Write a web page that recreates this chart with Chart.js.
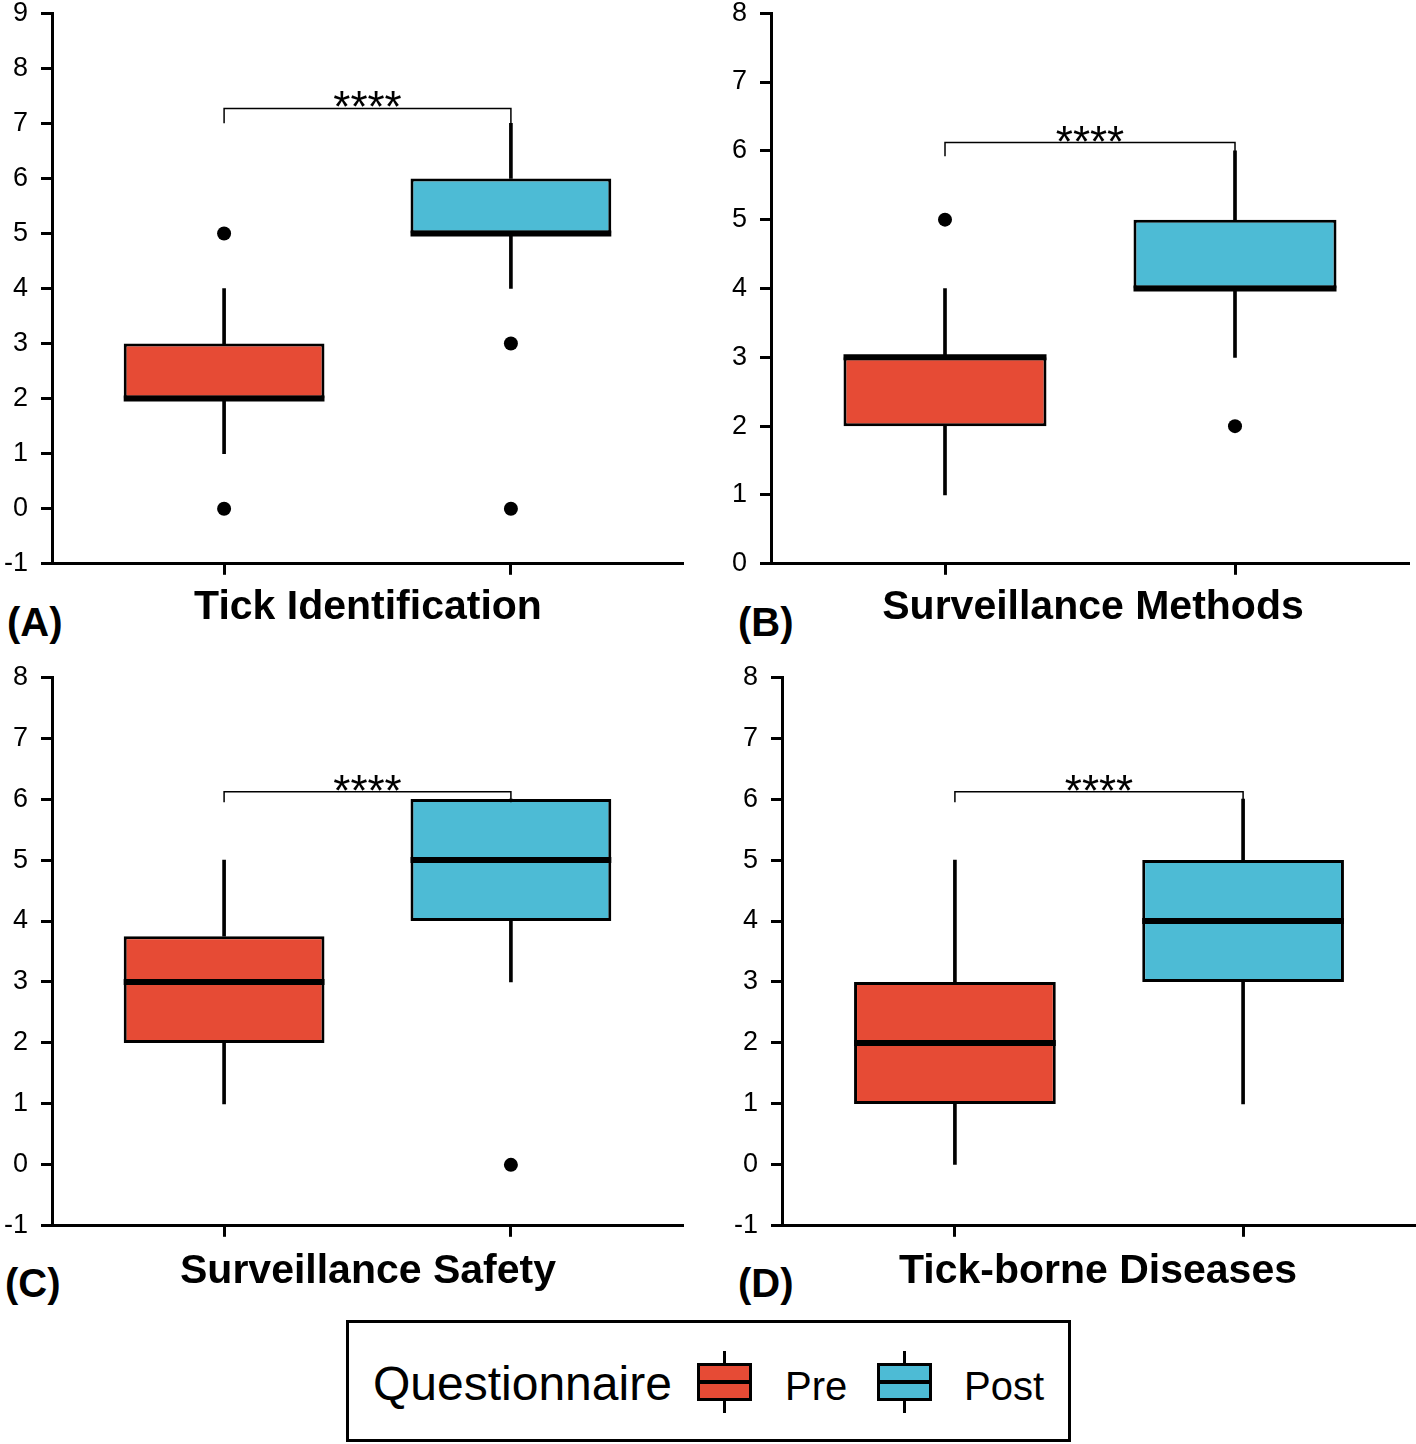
<!DOCTYPE html>
<html>
<head>
<meta charset="utf-8">
<script src="https://cdn.jsdelivr.net/npm/chart.js@4.4.1/dist/chart.umd.min.js"></script>
<style>
  body { margin: 0; background: #fff; font-family: "Liberation Sans", Arial, sans-serif; }
  #wrap { position: relative; width: 1416px; height: 1444px; overflow: hidden; background: #fff; }
  canvas { position: absolute; }
  .title { position: absolute; font-weight: bold; font-size: 41px; line-height: 40px; white-space: nowrap; transform: translateX(-50%); color: #000; }
  .tag { position: absolute; font-weight: bold; font-size: 40px; line-height: 40px; color: #000; }
  #legend { position: absolute; left: 346px; top: 1320px; width: 725px; height: 122px; box-sizing: border-box; border: 3px solid #000; }
  #legend .txt { position: absolute; top: 38px; line-height: 46px; color: #000; }
  .key { position: absolute; top: 40px; width: 55px; height: 38px; box-sizing: border-box; border: 3px solid #000; }
  .key .med { position: absolute; left: 0; right: 0; top: 14px; height: 4px; background: #000; }
  .key .wt { position: absolute; left: 23px; width: 3px; height: 12px; background: #000; }
</style>
</head>
<body>
<div id="wrap">
  <canvas id="c0" width="700" height="609" style="left:0;top:-16px"></canvas>
  <canvas id="c1" width="716" height="609" style="left:700px;top:-16px"></canvas>
  <canvas id="c2" width="700" height="607" style="left:0;top:648px"></canvas>
  <canvas id="c3" width="716" height="607" style="left:700px;top:648px"></canvas>

  <div class="title" style="left:368px;top:585px">Tick Identification</div>
  <div class="title" style="left:1093px;top:585px">Surveillance Methods</div>
  <div class="title" style="left:368px;top:1249px">Surveillance Safety</div>
  <div class="title" style="left:1098px;top:1249px">Tick-borne Diseases</div>
  <div class="tag" style="left:7px;top:602px">(A)</div>
  <div class="tag" style="left:738px;top:602px">(B)</div>
  <div class="tag" style="left:5px;top:1263px">(C)</div>
  <div class="tag" style="left:738px;top:1263px">(D)</div>

  <div id="legend">
    <div class="txt" style="left:24px;font-size:48px;">Questionnaire</div>
    <div class="key" style="left:348px;background:#E64B35"><div class="wt" style="top:-15px"></div><div class="med"></div><div class="wt" style="top:35px"></div></div>
    <div class="txt" style="left:436px;font-size:40px;top:40px">Pre</div>
    <div class="key" style="left:528px;background:#4DBBD5"><div class="wt" style="top:-15px"></div><div class="med"></div><div class="wt" style="top:35px"></div></div>
    <div class="txt" style="left:615px;font-size:40px;top:40px">Post</div>
  </div>
</div>

<script>
// data (Likert-type scores)
const panelTitles = ['Tick Identification', 'Surveillance Methods', 'Surveillance Safety', 'Tick-borne Diseases'];
const groups = ['Pre', 'Post'];
const groupColors = ['#E64B35', '#4DBBD5'];

const yMin = [-1, 0, -1, -1];
const yMax = [9, 8, 8, 8];

// per panel: [Pre, Post]
const q1 = [[2, 5], [2, 4], [2, 4], [1, 3]];
const median = [[2, 5], [3, 4], [3, 5], [2, 4]];
const q3 = [[3, 6], [3, 5], [3.75, 6], [3, 5]];
const whiskerLow = [[1, 4], [1, 3], [1, 3], [0, 1]];
const whiskerHigh = [[4, 7], [4, 6], [5, 6], [5, 6]];
const outliers = [[[0, 5], [0, 3]], [[5], [2]], [[], [0]], [[], []]];

// significance bracket (y value of bar, y value the legs drop to)
const bracketTop = [7.27, 6.12, 6.12, 6.12];
const bracketLeg = [7.0, 5.92, 5.95, 5.95];
const bracketLabel = '****';

// layout of each canvas
const axisLeft = [52, 71, 52, 82];
const padRight = [17, 1, 17, 0];
const PAD = 28;

const FONT = '"Liberation Sans", Arial, sans-serif';

const boxExtras = {
    id: 'boxExtras',
    afterDatasetsDraw(chart, args, opts) {
        const p = opts.panel;
        const ctx = chart.ctx;
        const ys = chart.scales.y;
        const xs = chart.scales.x;
        const meta = chart.getDatasetMeta(0);
        ctx.save();
        // medians
        ctx.strokeStyle = '#000';
        ctx.lineWidth = 6;
        meta.data.forEach((bar, j) => {
            const y = ys.getPixelForValue(median[p][j]);
            ctx.beginPath();
            ctx.moveTo(bar.x - bar.width / 2, y);
            ctx.lineTo(bar.x + bar.width / 2, y);
            ctx.stroke();
        });
        // significance bracket
        const xa = xs.getPixelForValue(0);
        const xb = xs.getPixelForValue(1);
        const yt = ys.getPixelForValue(bracketTop[p]);
        const yl = ys.getPixelForValue(bracketLeg[p]);
        ctx.lineWidth = 1.5;
        ctx.beginPath();
        ctx.moveTo(xa, yl);
        ctx.lineTo(xa, yt);
        ctx.lineTo(xb, yt);
        ctx.lineTo(xb, yl);
        ctx.stroke();
        ctx.fillStyle = '#000';
        ctx.font = '44px ' + FONT;
        ctx.textAlign = 'center';
        ctx.textBaseline = 'alphabetic';
        ctx.fillText(bracketLabel, (xa + xb) / 2, yt + 14);
        ctx.restore();
    }
};

function makeChart(p) {
    const boxData = groups.map((g, j) => ({ x: j, y: [q1[p][j], q3[p][j]] }));
    const lowData = groups.map((g, j) => ({ x: j, y: [whiskerLow[p][j], q1[p][j]] }));
    const highData = groups.map((g, j) => ({ x: j, y: [q3[p][j], whiskerHigh[p][j]] }));
    const outData = [];
    outliers[p].forEach((vals, j) => vals.forEach(v => outData.push({ x: j, y: v })));

    return new Chart(document.getElementById('c' + p), {
        type: 'bar',
        data: {
            datasets: [
                {
                    label: 'box',
                    data: boxData,
                    backgroundColor: groupColors,
                    borderColor: '#000',
                    borderWidth: 3,
                    borderSkipped: false,
                    grouped: false,
                    categoryPercentage: 1,
                    barPercentage: 0.7,
                    order: 1
                },
                {
                    label: 'whisker low',
                    data: lowData,
                    backgroundColor: '#000',
                    borderWidth: 0,
                    grouped: false,
                    barThickness: 3,
                    order: 2
                },
                {
                    label: 'whisker high',
                    data: highData,
                    backgroundColor: '#000',
                    borderWidth: 0,
                    grouped: false,
                    barThickness: 3,
                    order: 3
                },
                {
                    type: 'scatter',
                    label: 'outliers',
                    data: outData,
                    pointRadius: 7,
                    pointBackgroundColor: '#000',
                    pointBorderWidth: 0,
                    order: 0
                }
            ]
        },
        options: {
            responsive: false,
            animation: false,
            devicePixelRatio: 1,
            layout: { padding: { top: PAD, left: 0, right: padRight[p], bottom: 0 } },
            plugins: {
                legend: { display: false },
                tooltip: { enabled: false },
                boxExtras: { panel: p }
            },
            scales: {
                x: {
                    type: 'linear',
                    min: -0.6,
                    max: 1.6,
                    offset: false,
                    afterBuildTicks: (s) => { s.ticks = groups.map((g, j) => ({ value: j })); },
                    afterFit: (s) => { s.height = PAD; },
                    ticks: { callback: () => '' },
                    border: { display: true, color: '#000', width: 3 },
                    grid: { offset: false, drawOnChartArea: false, drawTicks: true, tickLength: 11, tickColor: '#000', tickWidth: 3 }
                },
                y: {
                    min: yMin[p],
                    max: yMax[p],
                    ticks: {
                        stepSize: 1,
                        color: '#000',
                        padding: 13,
                        font: { family: FONT, size: 27 }
                    },
                    afterFit: (s) => { s.width = axisLeft[p]; },
                    border: { display: true, color: '#000', width: 3 },
                    grid: { drawOnChartArea: false, drawTicks: true, tickLength: 11, tickColor: '#000', tickWidth: 3 }
                }
            }
        },
        plugins: [boxExtras]
    });
}

panelTitles.forEach((t, p) => makeChart(p));
</script>
</body>
</html>
